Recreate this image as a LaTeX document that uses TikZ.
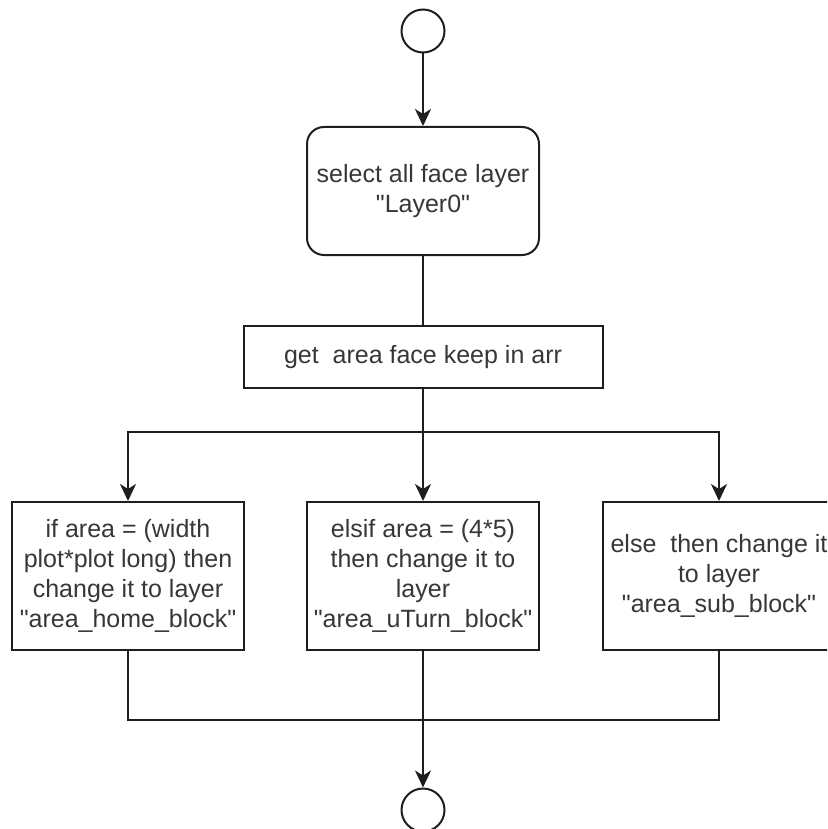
\documentclass[tikz,border=0pt]{standalone}
\usepackage{fontspec}
\setmainfont{Liberation Sans}
\usetikzlibrary{arrows.meta}
\definecolor{ln}{RGB}{30,30,30}
\definecolor{tx}{RGB}{55,55,55}
\newcommand{\dq}{\XeTeXglyph\XeTeXglyphindex "quotedbl"\relax}
\tikzset{
  base/.style={draw=ln, line width=2pt, fill=white, inner sep=0pt, align=center,
    text=tx, font=\fontsize{25}{30}\selectfont},
  termnode/.style={base, circle, minimum size=43pt},
  roundbox/.style={base, rectangle, rounded corners=17pt, minimum width=232pt, minimum height=128pt},
  boxnode/.style={base, rectangle, minimum width=232pt, minimum height=148pt},
  wire/.style={draw=ln, line width=2pt},
  flow/.style={wire, -{Stealth[length=17pt, width=16pt, inset=5pt]}}
}
\begin{document}
\begin{tikzpicture}[x=1pt, y=-1pt]
\clip (0,0) rectangle (827,829);
\fill[white] (0,0) rectangle (827,829);
\node[termnode] (start) at (423,31) {};
\node[roundbox] (sel) at (423,191) {select all face layer\\\dq Layer0\dq};
\node[base, rectangle, minimum width=359pt, minimum height=62pt] (get) at (423,357) {get\ \ area face keep in arr};
\node[boxnode] (L) at (128,576) {if area = (width\\plot*plot long) then\\change it to layer\\\dq area\_home\_block\dq};
\node[boxnode] (M) at (423,576) {elsif area = (4*5)\\then change it to\\layer\\\dq area\_uTurn\_block\dq};
\node[boxnode] (R) at (719,576) {else\ \ then change it\\to layer\\\dq area\_sub\_block\dq};
\node[termnode] (end) at (423,810) {};
\coordinate (br) at (423,432);
\coordinate (mg) at (423,720);
\draw[flow] (start) -- (sel.north);
\draw[wire] (sel.south) -- (get.north);
\draw[flow] (get.south) -- (M.north);
\draw[flow] (br) -| (L.north);
\draw[flow] (br) -| (R.north);
\draw[wire] (L.south) |- (mg);
\draw[wire] (R.south) |- (mg);
\draw[flow] (M.south) -- (end.north);
\end{tikzpicture}
\end{document}
